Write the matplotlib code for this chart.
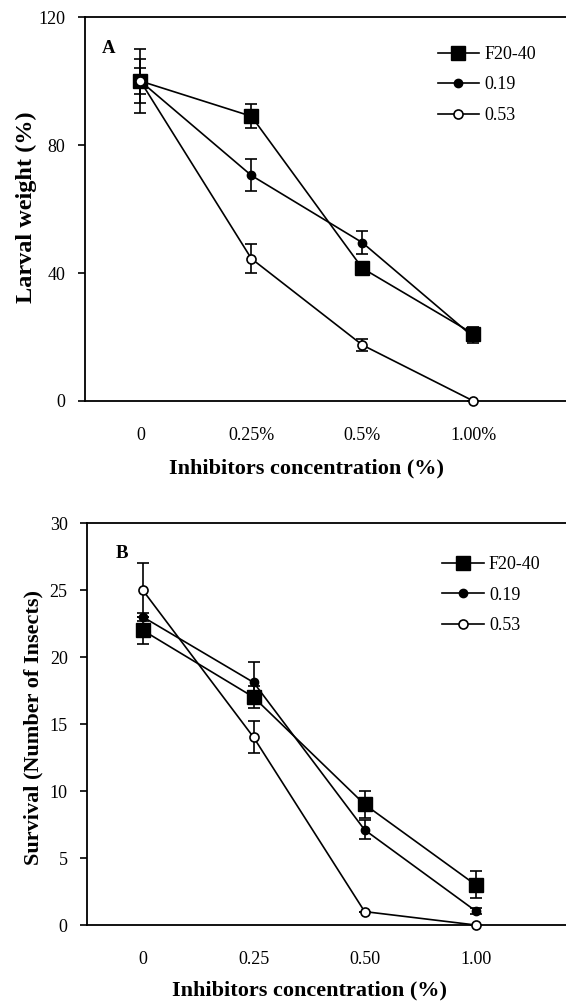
import matplotlib
matplotlib.use('Agg')
import matplotlib.pyplot as plt

plt.rcParams['font.family'] = 'Liberation Serif'
plt.rcParams['font.size'] = 11

# categories (plotted at equal spacing)
pos = [1, 2, 3, 4]
labels_a = ['0', '0.25%', '0.5%', '1.00%']
labels_b = ['0', '0.25', '0.50', '1.00']

# panel A: larval weight (%)
weight_f2040 = [100, 89, 41.5, 21]
weight_f2040_err = [4, 3.8, 2, 2]
weight_019 = [100, 70.5, 49.5, 20]
weight_019_err = [7, 5, 3.5, 2]
weight_053 = [100, 44.5, 17.5, 0]
weight_053_err = [10, 4.5, 2, 0]

# panel B: survival (number of insects)
surv_f2040 = [22, 17, 9, 3]
surv_f2040_err = [1, 0.8, 1, 1]
surv_019 = [23, 18.1, 7.1, 1.05]
surv_019_err = [0.3, 1.5, 0.7, 0.2]
surv_053 = [25, 14, 1, 0]
surv_053_err = [2, 1.2, 0, 0]

series_names = ['F20-40', '0.19', '0.53']
styles = [dict(marker='s', ms=10, mfc='black', mec='black'),
          dict(marker='o', ms=6, mfc='black', mec='black'),
          dict(marker='o', ms=6.5, mfc='white', mec='black', mew=1.2)]


def draw_panel(ax, data, labels, ylim, yticks, ylabel, ylabel_fs, ylab_xy,
               xlab_y, letter, letter_xy, leg_xy):
    for (y, err), name, st in zip(data, series_names, styles):
        ax.errorbar(pos, y, yerr=err, fmt='none', ecolor='black', capsize=4.3,
                    elinewidth=1.2, capthick=1.2, clip_on=False, zorder=2)
        ax.plot(pos, y, color='black', lw=1.2, label=name, clip_on=False,
                zorder=3, **st)
    ax.set_xlim(0.5, 5.1)
    ax.set_ylim(*ylim)
    ax.set_yticks(yticks)
    ax.set_xticks(pos)
    ax.set_xticklabels(labels)
    ax.tick_params(axis='x', length=0, pad=19, labelsize=13)
    ax.tick_params(axis='y', direction='out', length=5, width=1.2, labelsize=13, pad=9)
    for s in ax.spines.values():
        s.set_linewidth(1.3)
    ax.set_ylabel(ylabel, fontsize=ylabel_fs, fontweight='bold')
    ax.yaxis.set_label_coords(*ylab_xy)
    ax.set_xlabel('Inhibitors concentration (%)', fontsize=16, fontweight='bold')
    ax.xaxis.set_label_coords(0.435, xlab_y)
    ax.text(letter_xy[0], letter_xy[1], letter, transform=ax.transAxes,
            fontsize=13.5, fontweight='bold', va='baseline')
    ax.legend(loc='upper left', bbox_to_anchor=leg_xy, frameon=False,
              fontsize=13, handlelength=2.3, handletextpad=0.3, labelspacing=0.75,
              borderaxespad=0, borderpad=0)


fig = plt.figure(figsize=(5.66, 10.05), dpi=100)
ax1 = fig.add_axes([0.150, 0.601, 0.902, 0.382])
ax2 = fig.add_axes([0.154, 0.0796, 0.902, 0.400])

draw_panel(ax1, [(weight_f2040, weight_f2040_err), (weight_019, weight_019_err),
                 (weight_053, weight_053_err)],
           labels_a, (0, 120), [0, 40, 80, 120], 'Larval weight (%)', 17.5,
           (-0.094, 0.505), -0.15, 'A', (0.033, 0.906), (0.691, 0.925))
draw_panel(ax2, [(surv_f2040, surv_f2040_err), (surv_019, surv_019_err),
                 (surv_053, surv_053_err)],
           labels_b, (0, 30), [0, 5, 10, 15, 20, 25, 30],
           'Survival (Number of Insects)', 16, (-0.086, 0.4925), -0.137,
           'B', (0.055, 0.913), (0.695, 0.918))

fig.savefig('out.png', dpi=100)
